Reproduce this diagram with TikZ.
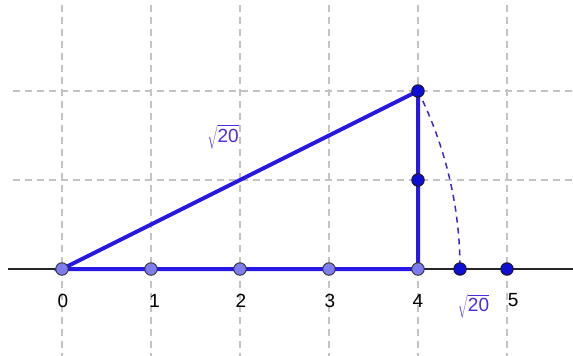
\documentclass[tikz,border=0pt]{standalone}
\usepackage{fontspec}
\setmainfont{Liberation Sans}
\definecolor{segblue}{RGB}{40,24,230}
\definecolor{lightpt}{RGB}{125,125,238}
\definecolor{darkpt}{RGB}{14,14,212}
\definecolor{arcblue}{RGB}{60,40,200}
\definecolor{lblblue}{RGB}{75,45,225}
\definecolor{gridgray}{RGB}{195,195,195}
\newcommand{\rootlabel}{$\sqrt{\vphantom{\big|}\hbox{\fontsize{19}{22}\selectfont 20}}$}
\tikzset{
  gridline/.style={draw=gridgray, line width=1.2pt, dash pattern=on 7pt off 5pt},
  axisline/.style={draw=black!85, line width=1.4pt},
  seg/.style={draw=segblue, line width=4pt},
  arcline/.style={draw=arcblue, line width=1.5pt, dash pattern=on 6pt off 5pt},
  lpt/.style={circle, fill=lightpt, draw=black!80, line width=0.9pt, minimum size=12.5pt, inner sep=0pt},
  dpt/.style={circle, fill=darkpt, draw=black!90, line width=0.9pt, minimum size=12.5pt, inner sep=0pt},
  num/.style={font=\fontsize{19}{22}\selectfont, text=black, inner sep=0pt},
  rootlbl/.style={font=\fontsize{17}{20}\selectfont, text=lblblue, inner sep=0pt}
}
\begin{document}
\begin{tikzpicture}[x=89pt,y=89pt]
\useasboundingbox (-0.6966,-0.9775) rectangle (5.7416,3.0225);
% grid
\foreach \i in {0,...,5} {\draw[gridline] (\i,2.966) -- (\i,-0.98);}
\foreach \j in {1,2} {\draw[gridline] (-0.55,\j) -- (5.75,\j);}
% axis
\coordinate (axL) at (-0.607,0);
\coordinate (axR) at (5.75,0);
\draw[axisline] (axL) -- (axR);
% point positions
\coordinate (c0) at (0,0);
\coordinate (c4) at (4,0);
\coordinate (c42) at (4,2);
% segments
\draw[seg] (c0) -- (c4) -- (c42) -- cycle;
\draw[arcline] (c42) arc[start angle=26.565, end angle=0, radius=4.4721];
% points
\node[lpt] (P0) at (c0) {};
\node[lpt] (P1) at (1,0) {};
\node[lpt] (P2) at (2,0) {};
\node[lpt] (P3) at (3,0) {};
\node[lpt] (P4) at (c4) {};
\node[dpt] (Q1) at (4,1) {};
\node[dpt] (Q2) at (c42) {};
\node[dpt] (R) at (4.4721,0) {};
\node[dpt] (P5) at (5,0) {};
% labels
\node[num] (L0) at (0.01,-0.354) {0};
\node[num] (L1) at (1.04,-0.354) {1};
\node[num] (L2) at (2.01,-0.354) {2};
\node[num] (L3) at (3.01,-0.354) {3};
\node[num] (L4) at (4.0,-0.354) {4};
\node[num] (L5) at (5.07,-0.354) {5};
\node[rootlbl] (S1) at (4.624,-0.42) {\rootlabel};
\node[rootlbl] (S2) at (1.81,1.483) {\rootlabel};
\end{tikzpicture}
\end{document}
